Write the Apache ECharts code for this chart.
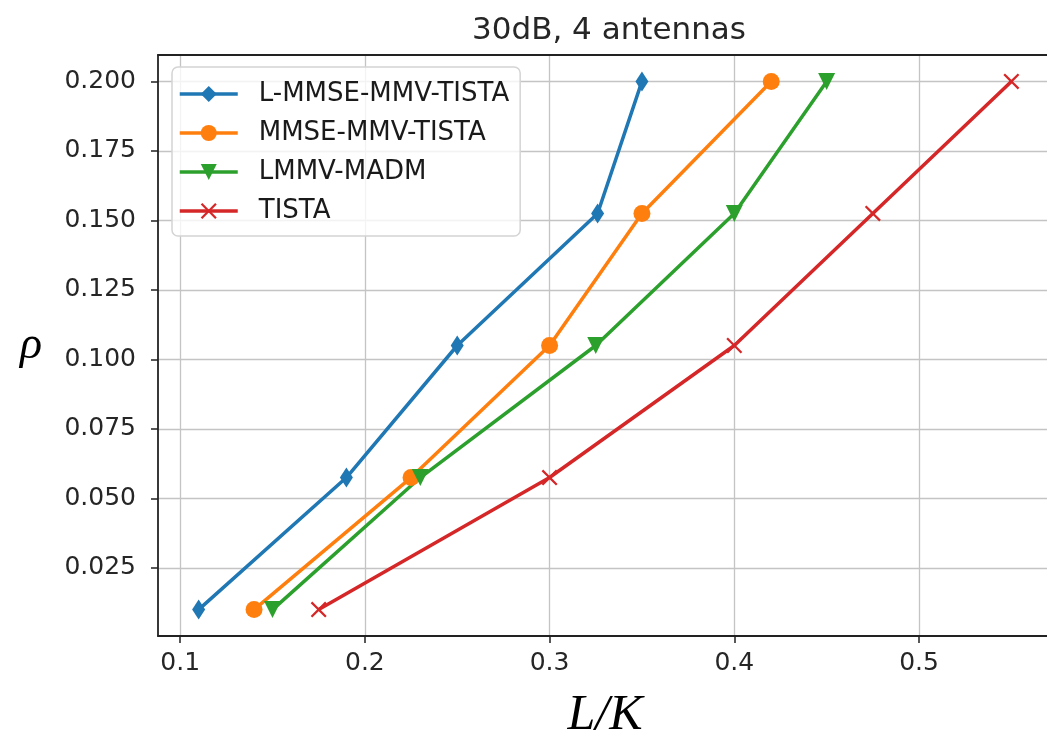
<!DOCTYPE html>
<html>
<head>
<meta charset="utf-8">
<script src="https://cdn.jsdelivr.net/npm/echarts@6/dist/echarts.min.js"></script>
<style>
  html, body { margin: 0; padding: 0; background: #fff; }
  #chart { width: 1047px; height: 739px; }
</style>
</head>
<body>
<div id="chart"></div>
<script>
const seriesNames = ['L-MMSE-MMV-TISTA', 'MMSE-MMV-TISTA', 'LMMV-MADM', 'TISTA'];
const rho = [0.01, 0.0575, 0.105, 0.1525, 0.2];
const lmmseX = [0.11, 0.19, 0.25, 0.326, 0.35];
const mmseX = [0.14, 0.225, 0.3, 0.35, 0.42];
const madmX = [0.15, 0.23, 0.325, 0.4, 0.45];
const tistaX = [0.175, 0.3, 0.4, 0.475, 0.55];
const xTicks = [0.1, 0.2, 0.3, 0.4, 0.5];
const yTicks = [0.025, 0.05, 0.075, 0.1, 0.125, 0.15, 0.175, 0.2];

const colors = ['#1f77b4', '#ff7f0e', '#2ca02c', '#d62728'];
// thin "x" marker like matplotlib's
const crossPath = 'path://M0,1 L1,0 L5,4 L9,0 L10,1 L6,5 L10,9 L9,10 L5,6 L1,10 L0,9 L4,5 Z';

const chart = echarts.init(document.getElementById('chart'));

function pairs(xs) {
  return xs.map((x, i) => [x, rho[i]]);
}

const marks = [
  { symbol: 'diamond', size: [13, 20], rotate: 0 },
  { symbol: 'circle', size: 17, rotate: 0 },
  { symbol: 'triangle', size: 17, rotate: 180 },
  { symbol: crossPath, size: 16, rotate: 0 }
];
const xsList = [lmmseX, mmseX, madmX, tistaX];

const tickFont = { fontFamily: 'DejaVu Sans', fontSize: 25, color: '#262626' };

const option = {
  animation: false,
  title: {
    text: '30dB, 4 antennas',
    left: 604, top: 10, textAlign: 'center',
    textStyle: { fontFamily: 'DejaVu Sans', fontSize: 31, fontWeight: 'normal', color: '#262626' }
  },
  grid: { left: 158, right: -5, top: 55, bottom: 103, containLabel: false, outerBoundsMode: 'none' },
  legend: {
    orient: 'vertical', left: 172, top: 67,
    itemWidth: 58, itemHeight: 20, itemGap: 13,
    padding: [14, 11, 12, 6],
    backgroundColor: 'rgba(255,255,255,0.8)',
    borderColor: '#d4d4d4', borderWidth: 1.5, borderRadius: 6,
    lineStyle: { width: 3.5 },
    textStyle: { fontFamily: 'DejaVu Sans', fontSize: 26, color: '#1a1a1a', padding: [0, 0, 0, 16] },
    data: seriesNames
  },
  xAxis: [{
    type: 'value', min: 0.088, max: 0.572,
    name: 'L/K', nameLocation: 'middle', nameGap: 55,
    nameTextStyle: { fontFamily: 'Liberation Serif', fontStyle: 'italic', fontSize: 50, color: '#000' },
    axisLine: { lineStyle: { color: '#222', width: 1.8 } },
    axisTick: { show: true, length: 7, lineStyle: { color: '#222', width: 1.5 }, customValues: xTicks },
    axisLabel: Object.assign({ margin: 15, customValues: xTicks, formatter: v => String(v) }, tickFont),
    splitLine: { show: true, lineStyle: { color: '#c4c4c4', width: 1.3 } }
  }, {
    type: 'value', position: 'top', min: 0.088, max: 0.572,
    axisLine: { show: true, onZero: false, lineStyle: { color: '#222', width: 1.8 } },
    axisTick: { show: false }, axisLabel: { show: false }, splitLine: { show: false }
  }],
  yAxis: {
    type: 'value', min: 0.0005, max: 0.2095,
    name: 'ρ', nameLocation: 'middle', nameGap: 116, nameRotate: 0,
    nameTextStyle: { fontFamily: 'Liberation Serif', fontStyle: 'italic', fontSize: 46, color: '#000', padding: [10, 0, 0, 0] },
    axisLine: { show: true, lineStyle: { color: '#222', width: 1.8 } },
    axisTick: { show: true, length: 7, lineStyle: { color: '#222', width: 1.5 }, customValues: yTicks },
    axisLabel: Object.assign({ margin: 22, customValues: yTicks, formatter: v => v.toFixed(3) }, tickFont),
    splitLine: { show: true, lineStyle: { color: '#c4c4c4', width: 1.3 } }
  },
  series: seriesNames.map((name, i) => ({
    name: name,
    type: 'line',
    data: pairs(xsList[i]),
    symbol: marks[i].symbol,
    symbolSize: marks[i].size,
    symbolRotate: marks[i].rotate,
    showAllSymbol: true,
    lineStyle: { color: colors[i], width: 3.5 },
    itemStyle: { color: colors[i], borderWidth: 0 }
  }))
};

option && chart.setOption(option);
</script>
</body>
</html>
